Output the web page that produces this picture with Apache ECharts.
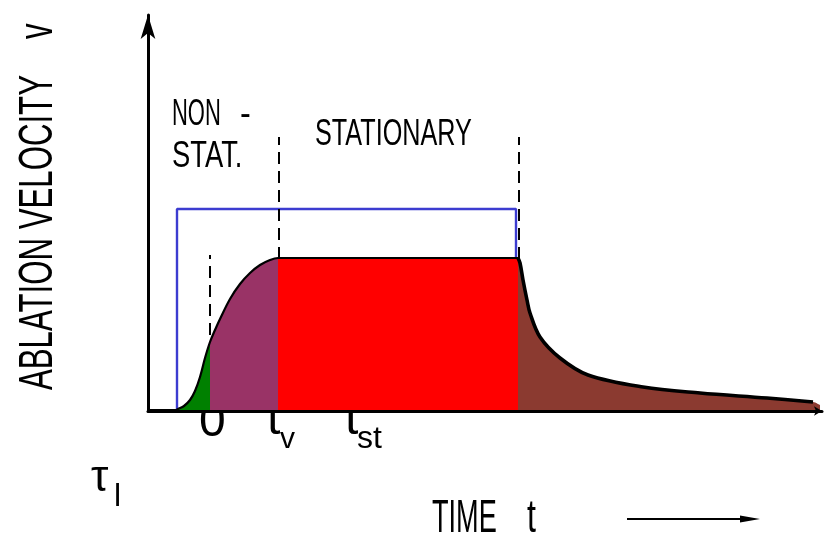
<!DOCTYPE html>
<html>
<head>
<meta charset="utf-8">
<script src="https://cdn.jsdelivr.net/npm/echarts@6/dist/echarts.min.js"></script>
<style>
html,body{margin:0;padding:0;background:#fff;}
#chart{width:828px;height:539px;}
</style>
</head>
<body>
<div id="chart"></div>
<script>
// ---- data (arbitrary schematic units: time t, ablation velocity v) ----
const riseT = [0, 28, 30, 36, 42, 47, 52, 57, 62, 67, 72, 82, 92, 102, 112, 122, 130];
const riseV = [1, 1, 2, 5, 11, 20, 34, 53, 69, 81, 92, 112, 127, 138, 146, 151, 153];
const plateauT = [130, 370];
const plateauV = 153;
const decayT = [370, 372, 375, 379, 382, 392, 412, 440, 495, 552, 619, 665];
const decayV = [153, 148, 131, 111, 98, 74, 53, 36, 24, 18, 13, 9];
const tailT = 672, tailV = 6;
const phaseT = [30, 62, 130, 370];           // start, 0, t_v, end of stationary
const phaseColors = ['#008000', '#993366', '#ff0000', '#8b3a30'];
const idealT = [29, 368];                    // blue rectangle (ideal pulse)
const idealV = 202;
const markerT = [62, 131, 371];              // dashed marker lines
const markerTop = [156, 274, 274];

const pts = (ts, vs) => ts.map((t, i) => [t, vs[i]]);
const risePts = pts(riseT, riseV);
const decayPts = pts(decayT, decayV);
const between = (arr, a, b) => arr.filter(p => p[0] >= a && p[0] <= b);

const SM = 0.35;
const fillSeries = (data, color) => ({
  type: 'line', data, symbol: 'none', smooth: SM, z: 2,
  lineStyle: { width: 0, opacity: 0 },
  areaStyle: { color, opacity: 1 }, silent: true
});

const series = [];
// ideal rectangle
series.push({
  type: 'line', symbol: 'none', z: 1, silent: true,
  data: [[idealT[0], 0], [idealT[0], idealV], [idealT[1], idealV], [idealT[1], 0]],
  lineStyle: { color: '#3c3cd0', width: 2.4 }
});
// dashed markers
markerT.forEach((t, i) => series.push({
  type: 'line', symbol: 'none', z: 1, silent: true,
  data: [[t, 0], [t, markerTop[i]]],
  lineStyle: { color: '#000', width: 2, type: [12, 7] }
}));
// phase fills
series.push(fillSeries(between(risePts, phaseT[0], phaseT[1]), phaseColors[0]));
series.push(fillSeries(between(risePts, phaseT[1], phaseT[2]), phaseColors[1]));
series.push(fillSeries(pts(plateauT, [plateauV, plateauV]), phaseColors[2]));
series.push(fillSeries(decayPts.concat([[tailT, tailV]]), phaseColors[3]));
// curve
series.push({
  type: 'line', symbol: 'none', smooth: SM, z: 3, silent: true,
  data: risePts.concat([[plateauT[1], plateauV]]),
  lineStyle: { color: '#000', width: 2.2 }
});
series.push({
  type: 'line', symbol: 'none', smooth: SM, z: 3, silent: true,
  data: decayPts,
  lineStyle: { color: '#000', width: 3.6 }
});

const F = '"Liberation Sans", Arial, sans-serif';
const txt = (text, x, y, size, scaleX, extra) => Object.assign({
  type: 'text', x, y, scaleX: scaleX, z: 0,
  style: { text, fontSize: size, fontFamily: F, fill: '#000', align: 'left', verticalAlign: 'middle' }
}, extra || {});

const graphics = [
  txt('NON', 172, 115.5, 36, 0.61),
  txt('-', 240, 115.5, 36, 0.9),
  txt('STAT.', 172, 157.5, 36, 0.76),
  txt('STATIONARY', 315, 135.5, 36, 0.70),
  txt('ABLATION VELOCITY', 38.5, 390, 48, 0.65, { rotation: Math.PI / 2 }),
  txt('v', 38.5, 39, 48, 0.65, { rotation: Math.PI / 2 }),
  txt('TIME', 432, 519, 46, 0.59),
  txt('t', 527, 519, 46, 0.7),
  txt('0', 199, 422.4, 48, 1),
  txt('t', 267, 420.4, 48, 1),
  txt('v', 280, 439.6, 30, 1),
  txt('t', 345, 420.4, 48, 1),
  txt('st', 357, 439, 32, 1),
  txt('τ', 91, 479, 44, 1),
  txt('l', 114, 497, 32, 1),
  { type: 'line', shape: { x1: 627, y1: 519, x2: 745, y2: 519 }, style: { stroke: '#000', lineWidth: 2 } },
  { type: 'polygon', shape: { points: [[740, 515.5], [760, 519], [740, 522.5]] }, style: { fill: '#000' } }
];

const chart = echarts.init(document.getElementById('chart'), null, { renderer: 'canvas' });
chart.setOption({
  animation: false,
  backgroundColor: '#fff',
  grid: { left: 148, top: 15, right: 6, bottom: 128, containLabel: false },
  xAxis: {
    type: 'value', min: 0, max: 674, z: 5,
    axisLine: { show: true, onZero: false, symbol: ['none', 'arrow'], symbolSize: [7, 8], lineStyle: { color: '#000', width: 3 } },
    axisTick: { show: false }, axisLabel: { show: false }, splitLine: { show: false }
  },
  yAxis: {
    type: 'value', min: 0, max: 396, z: 5,
    axisLine: { show: true, onZero: false, symbol: ['none', 'arrow'], symbolSize: [11, 24], lineStyle: { color: '#000', width: 3 } },
    axisTick: { show: false }, axisLabel: { show: false }, splitLine: { show: false }
  },
  graphic: graphics,
  series
});
</script>
</body>
</html>
